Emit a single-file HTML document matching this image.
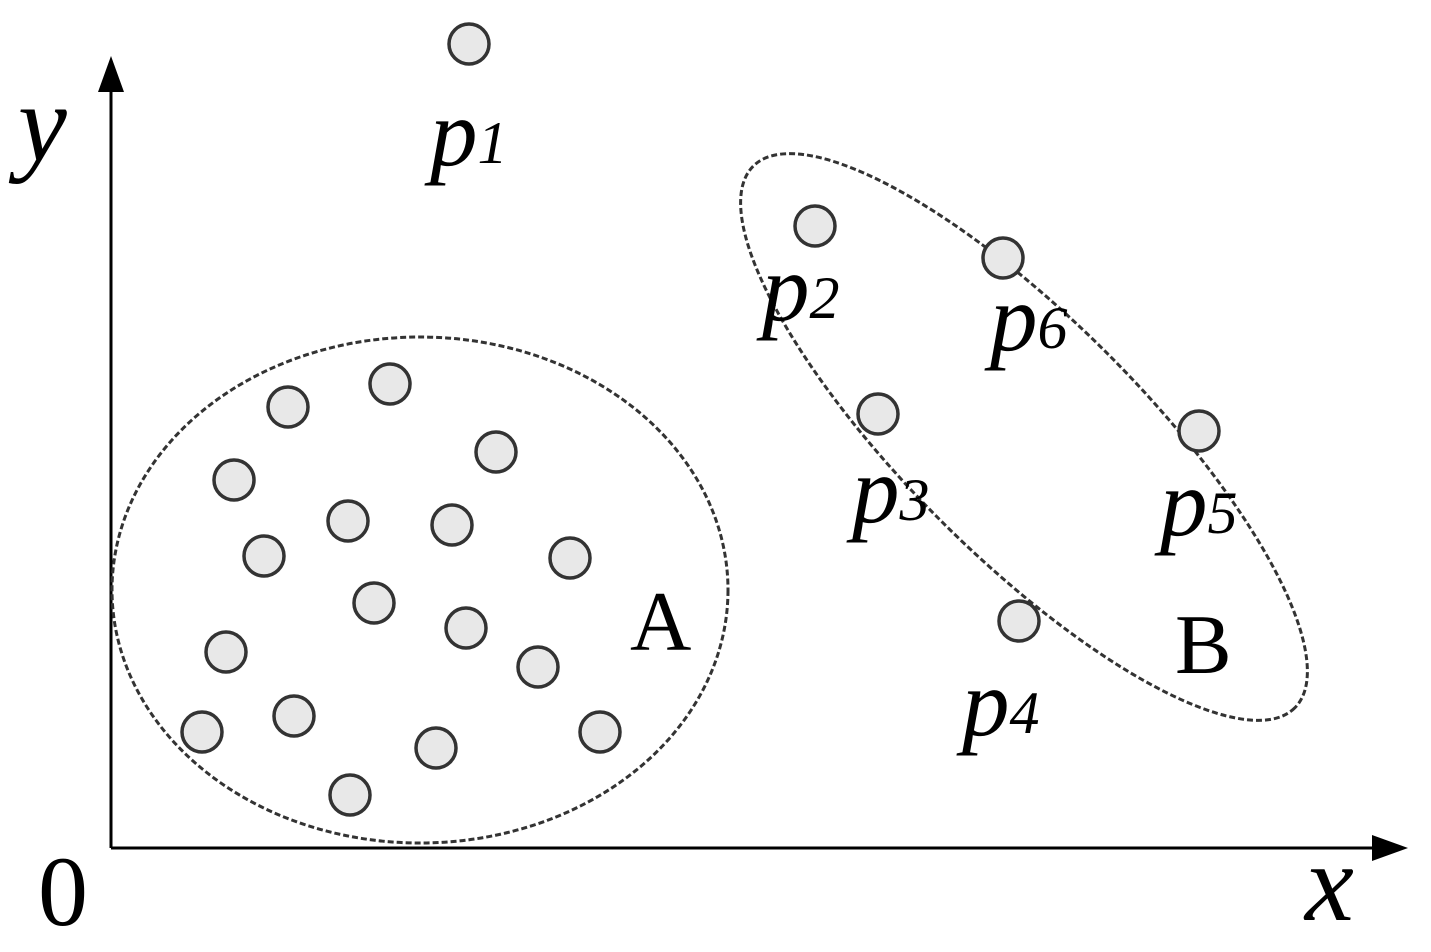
<!DOCTYPE html>
<html><head><style>html,body{margin:0;padding:0;background:#fff;}svg{display:block}</style></head>
<body>
<svg width="1431" height="952" viewBox="0 0 1431 952" xmlns="http://www.w3.org/2000/svg">
<g stroke="#000" stroke-width="3" fill="none">
<line x1="111" y1="848" x2="111" y2="80"/>
<line x1="111" y1="848" x2="1385" y2="848"/>
</g>
<polygon points="111,56 98,92 124,92" fill="#000"/>
<polygon points="1408,848 1372,835 1372,861" fill="#000"/>
<g stroke="#333" stroke-width="3" fill="none" stroke-dasharray="6,3">
<ellipse cx="420" cy="590" rx="308" ry="253"/>
<ellipse cx="1024" cy="437" rx="383" ry="118" transform="rotate(45 1024 437)"/>
</g>
<g fill="#e8e8e8" stroke="#333" stroke-width="3.5">
<circle cx="469" cy="44" r="20"/>
<circle cx="288" cy="407" r="20"/><circle cx="390" cy="384" r="20"/><circle cx="496" cy="452" r="20"/>
<circle cx="234" cy="480" r="20"/><circle cx="348" cy="521" r="20"/><circle cx="452" cy="525" r="20"/>
<circle cx="264" cy="556" r="20"/><circle cx="570" cy="558" r="20"/><circle cx="374" cy="603" r="20"/>
<circle cx="466" cy="628" r="20"/><circle cx="226" cy="652" r="20"/><circle cx="538" cy="667" r="20"/>
<circle cx="294" cy="716" r="20"/><circle cx="202" cy="732" r="20"/><circle cx="600" cy="732" r="20"/>
<circle cx="436" cy="748" r="20"/><circle cx="350" cy="795" r="20"/>
<circle cx="815" cy="226" r="20"/><circle cx="1003" cy="258" r="20"/><circle cx="878" cy="414" r="20"/>
<circle cx="1199" cy="431" r="20"/><circle cx="1019" cy="621" r="20"/>
</g>
<g font-family="Liberation Serif, serif" fill="#000">
<text x="18" y="160" font-size="110" font-style="italic">y</text>
<text x="38" y="925" font-size="100">0</text>
<text x="1305" y="920" font-size="110" font-style="italic">x</text>
<text x="630" y="650" font-size="85">A</text>
<text x="1175" y="673" font-size="85">B</text>
<g font-style="italic">
<text x="430" y="165" font-size="95">p<tspan font-size="60" dy="-2">1</tspan></text>
<text x="762" y="320" font-size="95">p<tspan font-size="60" dy="-2">2</tspan></text>
<text x="990" y="350" font-size="95">p<tspan font-size="60" dy="-2">6</tspan></text>
<text x="852" y="522" font-size="95">p<tspan font-size="60" dy="-2">3</tspan></text>
<text x="1160" y="535" font-size="95">p<tspan font-size="60" dy="-2">5</tspan></text>
<text x="962" y="735" font-size="95">p<tspan font-size="60" dy="-2">4</tspan></text>
</g>
</g>
</svg>
</body></html>
